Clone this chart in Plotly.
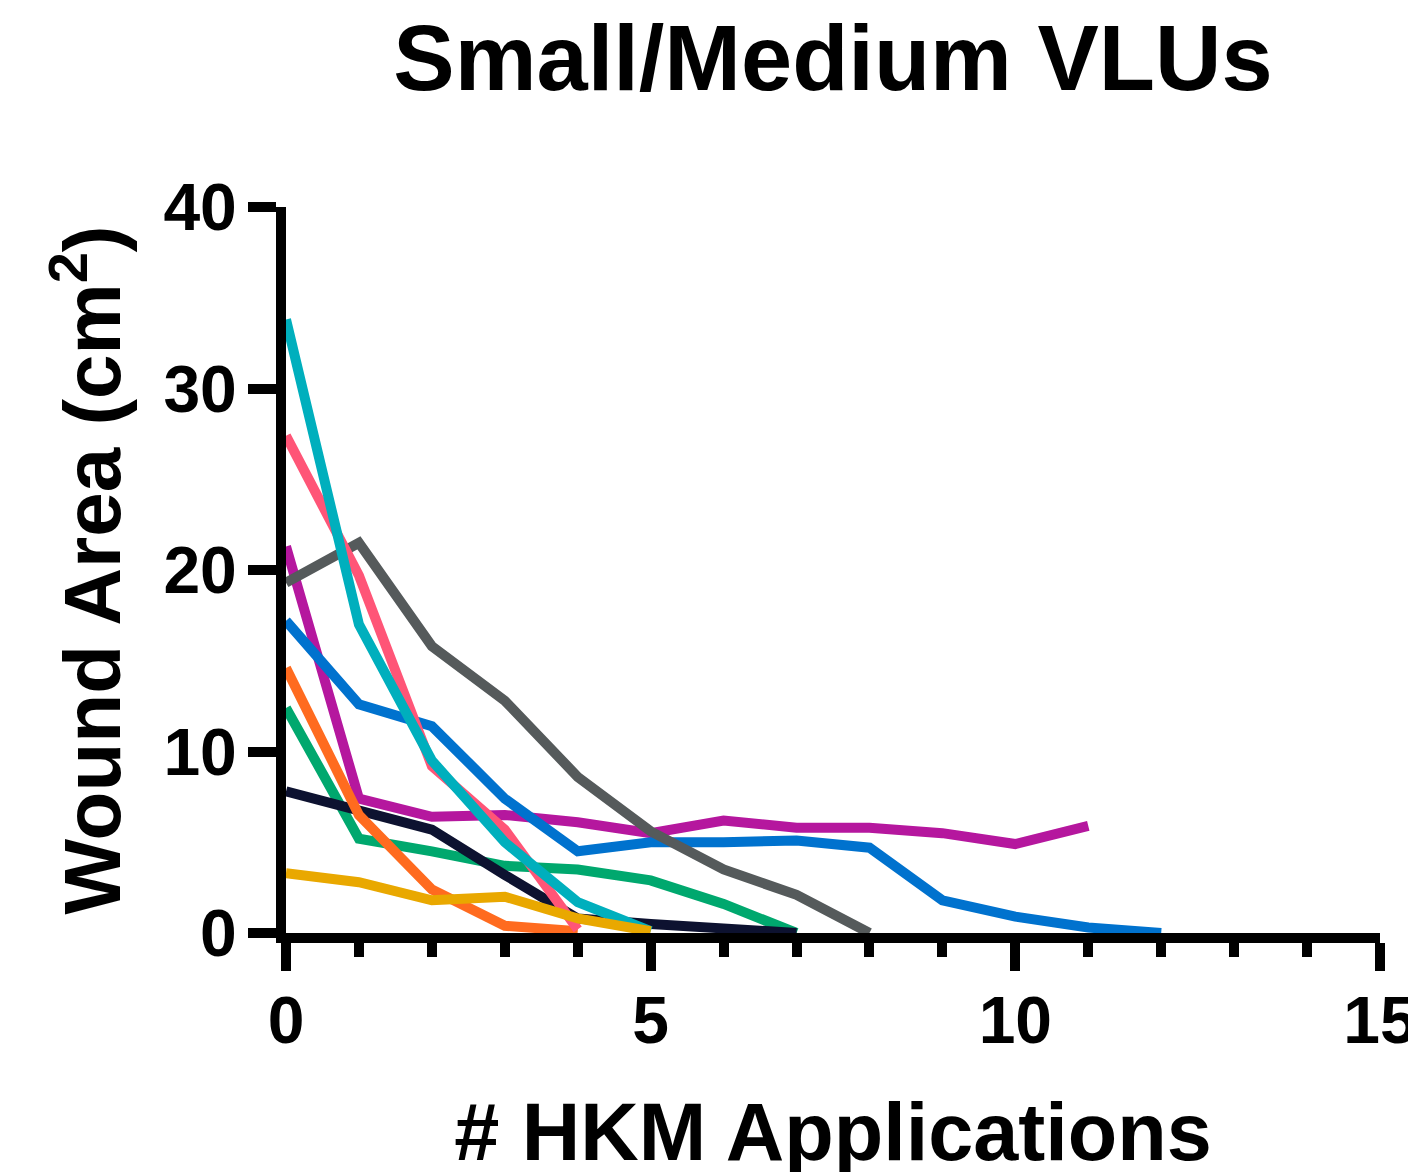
import plotly.graph_objects as go

# Data (wound area, cm^2, per HKM application)
magenta = [21.3, 7.4, 6.4, 6.5, 6.1, 5.5, 6.2, 5.8, 5.8, 5.5, 4.9, 5.9]
blue = [17.2, 12.6, 11.4, 7.4, 4.5, 5.0, 5.0, 5.1, 4.7, 1.8, 0.9, 0.3, 0.0]
green = [12.4, 5.2, 4.5, 3.7, 3.5, 2.9, 1.6, 0.0]
navy = [7.8, 6.8, 5.7, 3.2, 0.8, 0.5, 0.2, 0.0]
gray = [19.3, 21.5, 15.8, 12.8, 8.6, 5.6, 3.5, 2.1, 0.0]
orange = [14.6, 6.5, 2.4, 0.4, 0.1]
pink = [27.4, 19.7, 9.2, 5.7, 0.2]
cyan = [33.8, 17.0, 9.5, 5.0, 1.7, 0.1]
yellow = [3.3, 2.8, 1.8, 2.0, 0.8, 0.1]

series = [
    ("magenta", magenta, "#B5179E"),
    ("blue", blue, "#0072CE"),
    ("green", green, "#00A86E"),
    ("navy", navy, "#0D1230"),
    ("gray", gray, "#555A5B"),
    ("orange", orange, "#FF6B1F"),
    ("pink", pink, "#FF5577"),
    ("cyan", cyan, "#00AFBD"),
    ("yellow", yellow, "#E9A800"),
]

title_text = "Small/Medium VLUs"
x_title = "# HKM Applications"
y_title = "Wound Area (cm<sup>2</sup>)"
x_ticks = [0, 5, 10, 15]
y_ticks = [0, 10, 20, 30, 40]

FONT = "Liberation Sans"

fig = go.Figure()
for name, vals, col in series:
    fig.add_trace(go.Scatter(
        x=list(range(len(vals))), y=vals, mode="lines", name=name,
        line=dict(color=col, width=10), showlegend=False,
    ))

W, H = 1416, 1172
ml, mr, mt, mb = 278, 44, 199, 247

fig.update_layout(
    width=W, height=H,
    margin=dict(l=ml, r=mr, t=mt, b=mb, autoexpand=False),
    paper_bgcolor="white", plot_bgcolor="white",
    title=dict(text=title_text, x=(ml + (W - ml - mr) / 2) / W, xanchor="center",
               y=1 - 50 / H, yanchor="middle", yref="container",
               font=dict(family=FONT, size=92, color="black", weight="bold")),
    font=dict(family=FONT, color="black", weight="bold"),
)
fig.update_xaxes(
    range=[0, 15], tickvals=x_ticks, ticks="outside", ticklen=28, tickwidth=10,
    tickcolor="black", showline=True, linewidth=10, linecolor="black",
    showgrid=False, zeroline=False, automargin=False, ticklabeloverflow="allow",
    ticklabelstandoff=-7,
    minor=dict(dtick=1, ticks="outside", ticklen=14, tickwidth=10, tickcolor="black", showgrid=False),
    tickfont=dict(family=FONT, size=66, color="black", weight="bold"),
    title=dict(text=x_title, standoff=51, font=dict(family=FONT, size=81, color="black", weight="bold")),
)
fig.update_yaxes(
    range=[0, 40], tickvals=y_ticks, ticks="outside", ticklen=28, tickwidth=10,
    tickcolor="black", showline=True, linewidth=10, linecolor="black",
    showgrid=False, zeroline=False, automargin=False, ticklabelstandoff=-2,
    tickfont=dict(family=FONT, size=66, color="black", weight="bold"),
    title=dict(text=y_title, standoff=20, font=dict(family=FONT, size=80, color="black", weight="bold")),
)

fig.write_html("out.html")
